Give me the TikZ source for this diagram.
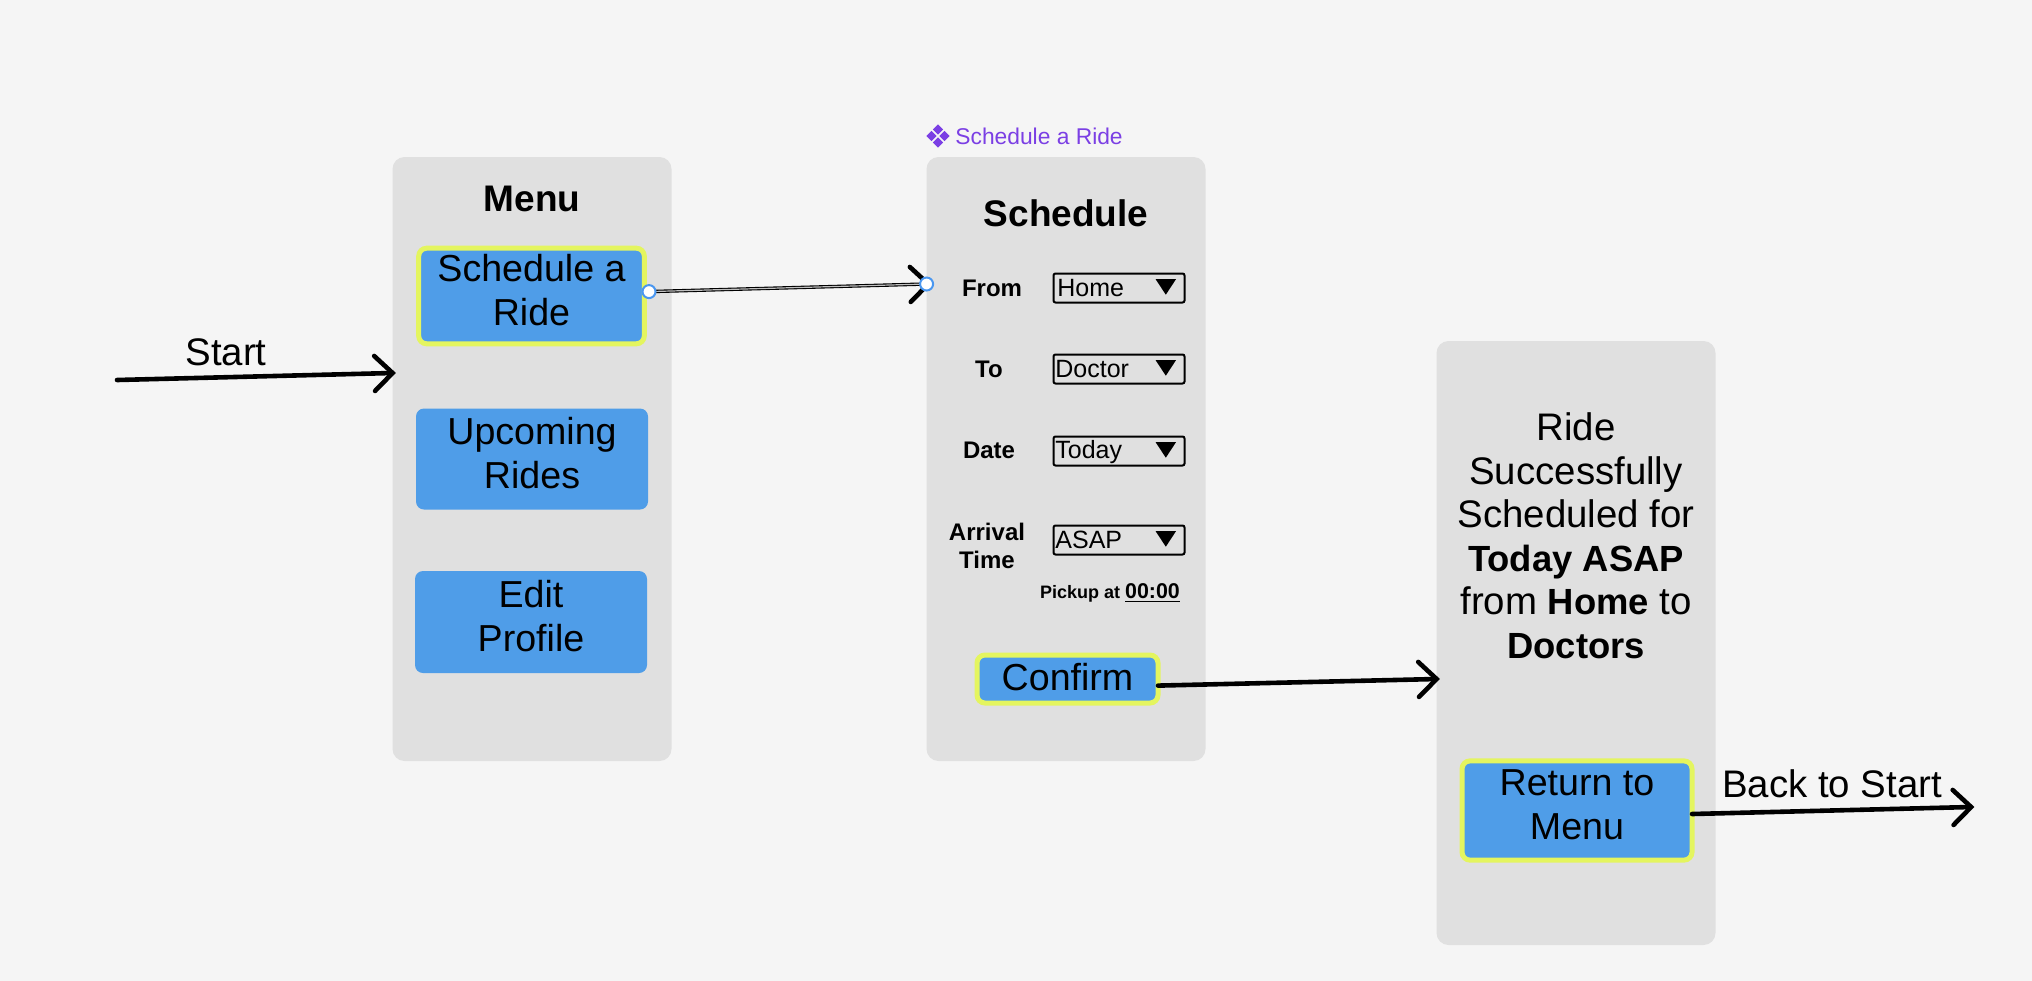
\documentclass[tikz,border=0pt]{standalone}
\usepackage{fontspec}
\setmainfont{Liberation Sans}
\usepackage{tikz}
\usetikzlibrary{arrows.meta,shapes.geometric}
\definecolor{pagebg}{HTML}{F5F5F5}
\definecolor{panelgray}{HTML}{E0E0E0}
\definecolor{btnblue}{HTML}{4F9DE8}
\definecolor{btnyellow}{HTML}{E4F55F}
\definecolor{dotblue}{HTML}{4A97F0}
\definecolor{compviolet}{HTML}{7B3FE4}
\newcommand{\bigtext}{\fontsize{18.8}{21.75}\selectfont}
\newcommand{\widetext}{\fontsize{19.2}{21.75}\selectfont}
\newcommand{\heavytext}[1]{{\fontsize{18.2}{21.75}\selectfont\bfseries #1}}

\begin{document}
\begin{tikzpicture}[x=0.5pt,y=-0.5pt,>={Straight Barb[length=9pt,width=17.5pt,line cap=round,line width=2.3pt]},
    panel/.style={fill=panelgray,rounded corners=6pt,minimum width=139.5pt,minimum height=302pt,inner sep=0pt,outer sep=0pt},
    btn/.style={fill=btnblue,rounded corners=4pt,font=\bigtext,align=center,inner sep=0pt,outer sep=0pt},
    hot/.style={btn,draw=btnyellow,line width=2.5pt},
    liftup/.style={execute at end node={\rule[-6pt]{0pt}{0pt}}},
    title/.style={font=\fontsize{18.5}{21.75}\selectfont\bfseries,inner sep=0pt},
    field/.style={font=\fontsize{12}{14.2}\selectfont\bfseries,align=center,inner sep=0pt},
    drop/.style={draw=black,line width=1pt,rounded corners=1pt,minimum width=65.5pt,minimum height=14.5pt,inner sep=0pt,outer sep=0pt},
    droptext/.style={font=\fontsize{12.5}{15}\selectfont,inner sep=0pt,anchor=west},
    wire/.style={line width=2.3pt,line cap=round,shorten >=-1.7pt},
    dot/.style={circle,draw=dotblue,fill=white,line width=1pt,minimum size=6.5pt,inner sep=0pt},
    gem/.style={diamond,fill=compviolet,minimum size=5.2pt,inner sep=0pt}]
  \useasboundingbox (0,0) rectangle (2032,980);
  \fill[pagebg] (-6,-6) rectangle (2038,986);

  \node[panel] (menu) at (532,459) {};
  \node[panel] (sched) at (1066,459) {};
  \node[panel] (done) at (1576,643) {};

  \node[title] (menutitle) at (532,199) {Menu};
  \node[hot,liftup,minimum width=112.8pt,minimum height=47.8pt] (ride) at (531.5,296) {Schedule a\\Ride};
  \node[btn,liftup,minimum width=116pt,minimum height=50.5pt] (upcoming) at (532,459) {Upcoming\\Rides};
  \node[btn,liftup,minimum width=116pt,minimum height=51pt] (edit) at (531,622) {Edit\\Profile};

  \node[gem] (gemn) at (938,129.5) {};
  \node[gem] (gems) at (938,142.5) {};
  \node[gem] (gemw) at (931.5,136) {};
  \node[gem] (geme) at (944.5,136) {};
  \node[font=\fontsize{11.4}{14}\selectfont,text=compviolet,inner sep=0pt,anchor=west] (complabel) at (955,136) {Schedule a Ride};

  \node[title] (schedtitle) at (1066,213) {Schedule};
  \node[field] (fromlabel) at (992,288) {From};
  \node[field] (tolabel) at (989,369) {To};
  \node[field] (datelabel) at (989,450) {Date};
  \node[field] (arrivallabel) at (987,546) {Arrival\\Time};

  \node[drop] (fromdrop) at (1119,288) {};
  \node[drop] (todrop) at (1119,369) {};
  \node[drop] (datedrop) at (1119,451) {};
  \node[drop] (arrivaldrop) at (1119,540) {};
  \node[droptext] (fromtext) at (1057,288) {Home};
  \node[droptext] (totext) at (1055,369.5) {Doctor};
  \node[droptext] (datetext) at (1055,452) {Today};
  \node[droptext] (arrivaltext) at (1055,540) {ASAP};
  \fill ([shift={(-29,-9)}]fromdrop.east) -- ++(20.6,0) -- ++(-10.3,15.7) -- cycle;
  \fill ([shift={(-29,-9)}]todrop.east) -- ++(20.6,0) -- ++(-10.3,15.7) -- cycle;
  \fill ([shift={(-29,-9)}]datedrop.east) -- ++(20.6,0) -- ++(-10.3,15.7) -- cycle;
  \fill ([shift={(-29,-9)}]arrivaldrop.east) -- ++(20.6,0) -- ++(-10.3,15.7) -- cycle;
  \node[font=\fontsize{9}{11}\selectfont\bfseries,inner sep=0pt] (pickup) at (1110,593) {Pickup at {\fontsize{10.7}{11}\selectfont\underline{00:00}}};
  \node[hot,text depth=2.6pt,minimum width=90.5pt,minimum height=24pt] (confirm) at (1067.5,679) {Confirm};

  \node[font=\widetext,align=center,inner sep=0pt] (message) at (1576,536) {Ride\\Successfully\\Scheduled for\\\heavytext{Today ASAP}\\from \heavytext{Home} to\\\heavytext{Doctors}};
  \node[hot,liftup,minimum width=115pt,minimum height=49.6pt] (ret) at (1577,810.5) {Return to\\Menu};

  \coordinate (startin) at (117,380);
  \coordinate (rideout) at (649,291.6);
  \coordinate (schedin) at (926.6,284);
  \coordinate (backend) at (1971,807);
  \path[->,wire]
        (startin) edge node {} ([yshift=43pt]menu.west)
        ([yshift=-3.3pt]confirm.east) edge node {} ([yshift=-18pt]done.west)
        ([yshift=-1.75pt]ret.east) edge node {} (backend);
  \draw[->,wire,line width=1.7pt,shorten >=-2.5pt] (rideout) -- (schedin);
  \draw[line width=0.6pt,draw=white!75!black] (rideout) -- (schedin);
  \node[dot] (rideport) at (rideout) {};
  \node[dot] (schedport) at (schedin) {};

  \node[font=\widetext,inner sep=0pt] (startlabel) at (226,352) {Start};
  \node[font=\widetext,inner sep=0pt] (backlabel) at (1832,784) {Back to Start};
\end{tikzpicture}
\end{document}
